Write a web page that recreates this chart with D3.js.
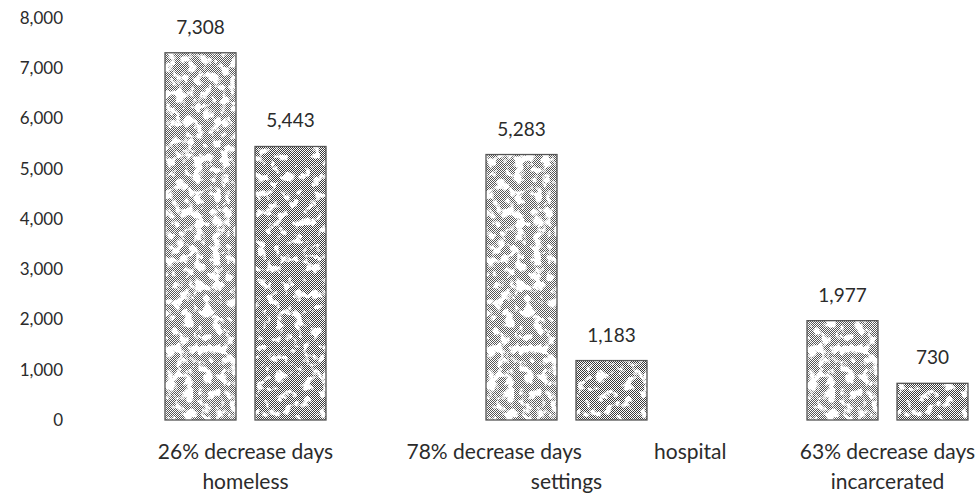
<!DOCTYPE html>
<html>
<head>
<meta charset="utf-8">
<script src="https://cdn.jsdelivr.net/npm/d3@7"></script>
<style>
  html, body { margin: 0; padding: 0; background: #fff; }
  svg text { font-family: Lato, "Open Sans", sans-serif; fill: #2b2b2b; }
</style>
</head>
<body>
<svg id="chart" width="980" height="493"></svg>
<script>
// Outcome categories, label lines (a line may have a left and a right part)
const categories = ["homeless", "hospital", "incarcerated"];
const categoryLines = [
  [["26% decrease days"], ["homeless"]],
  [["78% decrease days", "hospital"], ["settings"]],
  [["63% decrease days"], ["incarcerated"]]
];
const seriesKeys = ["before", "after"];
const beforeValues = [7308, 5283, 1977];
const afterValues = [5443, 1183, 730];
const yTicks = [0, 1000, 2000, 3000, 4000, 5000, 6000, 7000, 8000];

const svg = d3.select("#chart");
const defs = svg.append("defs");

// dithered grey fill: a one-pixel checkerboard
const ditherInk = { before: "#555", after: "#3a3a3a" };
Object.entries(ditherInk).forEach(([key, ink]) => {
  const p = defs.append("pattern").attr("id", "dither-" + key)
    .attr("patternUnits", "userSpaceOnUse").attr("width", 2).attr("height", 2);
  p.append("rect").attr("width", 2).attr("height", 2).attr("fill", "#fff");
  p.append("rect").attr("x", 0).attr("y", 0).attr("width", 1).attr("height", 1).attr("fill", ink);
  p.append("rect").attr("x", 1).attr("y", 1).attr("width", 1).attr("height", 1).attr("fill", ink);
});

// pale blotches laid over the dither (more of them on the lighter series)
const blotchCut = { before: -3.85, after: -4.35 };
Object.entries(blotchCut).forEach(([key, cut], i) => {
  const f = defs.append("filter").attr("id", "blotch-" + key)
    .attr("x", 0).attr("y", 0).attr("width", 1).attr("height", 1);
  f.append("feTurbulence").attr("type", "fractalNoise")
    .attr("baseFrequency", 0.11).attr("numOctaves", 3).attr("seed", 5 + i * 7).attr("result", "n");
  f.append("feColorMatrix").attr("in", "n").attr("type", "matrix")
    .attr("values", `0 0 0 0 1  0 0 0 0 1  0 0 0 0 1  0 0 0 8 ${cut}`).attr("result", "m");
  f.append("feComposite").attr("in", "m").attr("in2", "SourceGraphic").attr("operator", "in");
});

const x0 = d3.scaleBand().domain(categories).range([85, 85 + 321 * 3]).padding(0);
const x1 = d3.scaleBand().domain(seriesKeys).range([80, 241]).paddingInner(0.211).paddingOuter(0);
const y = d3.scaleLinear().domain([0, 8000]).range([420, 18]);

const rows = categories.map((c, i) => ({
  cat: c,
  lines: categoryLines[i],
  vals: [
    { key: "before", value: beforeValues[i] },
    { key: "after", value: afterValues[i] }
  ]
}));

// y axis: labels only, no line or ticks
const yAxis = d3.axisLeft(y).tickValues(yTicks).tickFormat(d3.format(",")).tickSize(0).tickPadding(0);
const gy = svg.append("g").attr("transform", "translate(63,0)").call(yAxis);
gy.select(".domain").remove();
gy.selectAll("text").attr("font-size", 17).style("fill", "#2b2b2b");

const groups = svg.append("g").selectAll("g").data(rows).join("g")
  .attr("transform", d => `translate(${x0(d.cat)},0)`);

const barAttrs = sel => sel
  .attr("x", d => x1(d.key))
  .attr("y", d => y(d.value))
  .attr("width", x1.bandwidth())
  .attr("height", d => y(0) - y(d.value));

groups.selectAll("rect.bar").data(d => d.vals).join("rect")
  .attr("class", "bar").call(barAttrs)
  .attr("fill", d => `url(#dither-${d.key})`);

groups.selectAll("rect.blotch").data(d => d.vals).join("rect")
  .attr("class", "blotch").call(barAttrs)
  .attr("fill", "#fff")
  .attr("filter", d => `url(#blotch-${d.key})`);

groups.selectAll("rect.edge").data(d => d.vals).join("rect")
  .attr("class", "edge").call(barAttrs)
  .attr("fill", "none")
  .attr("stroke", "#555")
  .attr("stroke-width", 1.3);

groups.selectAll("text.val").data(d => d.vals).join("text")
  .attr("class", "val")
  .attr("x", d => x1(d.key) + x1.bandwidth() / 2)
  .attr("y", d => y(d.value) - 19)
  .attr("text-anchor", "middle")
  .attr("font-size", 19)
  .text(d => d3.format(",")(d.value));

// category labels under each pair of bars
const halfSpread = 160;
groups.each(function (d) {
  const g = d3.select(this);
  const cx = x0.bandwidth() / 2;
  d.lines.forEach((parts, j) => {
    const yy = 459 + j * 30;
    if (parts.length === 1) {
      g.append("text").attr("x", cx).attr("y", yy).attr("text-anchor", "middle")
        .attr("font-size", 21).text(parts[0]);
    } else {
      g.append("text").attr("x", cx - halfSpread).attr("y", yy).attr("text-anchor", "start")
        .attr("font-size", 21).text(parts[0]);
      g.append("text").attr("x", cx + halfSpread).attr("y", yy).attr("text-anchor", "end")
        .attr("font-size", 21).text(parts[1]);
    }
  });
});
</script>
</body>
</html>
